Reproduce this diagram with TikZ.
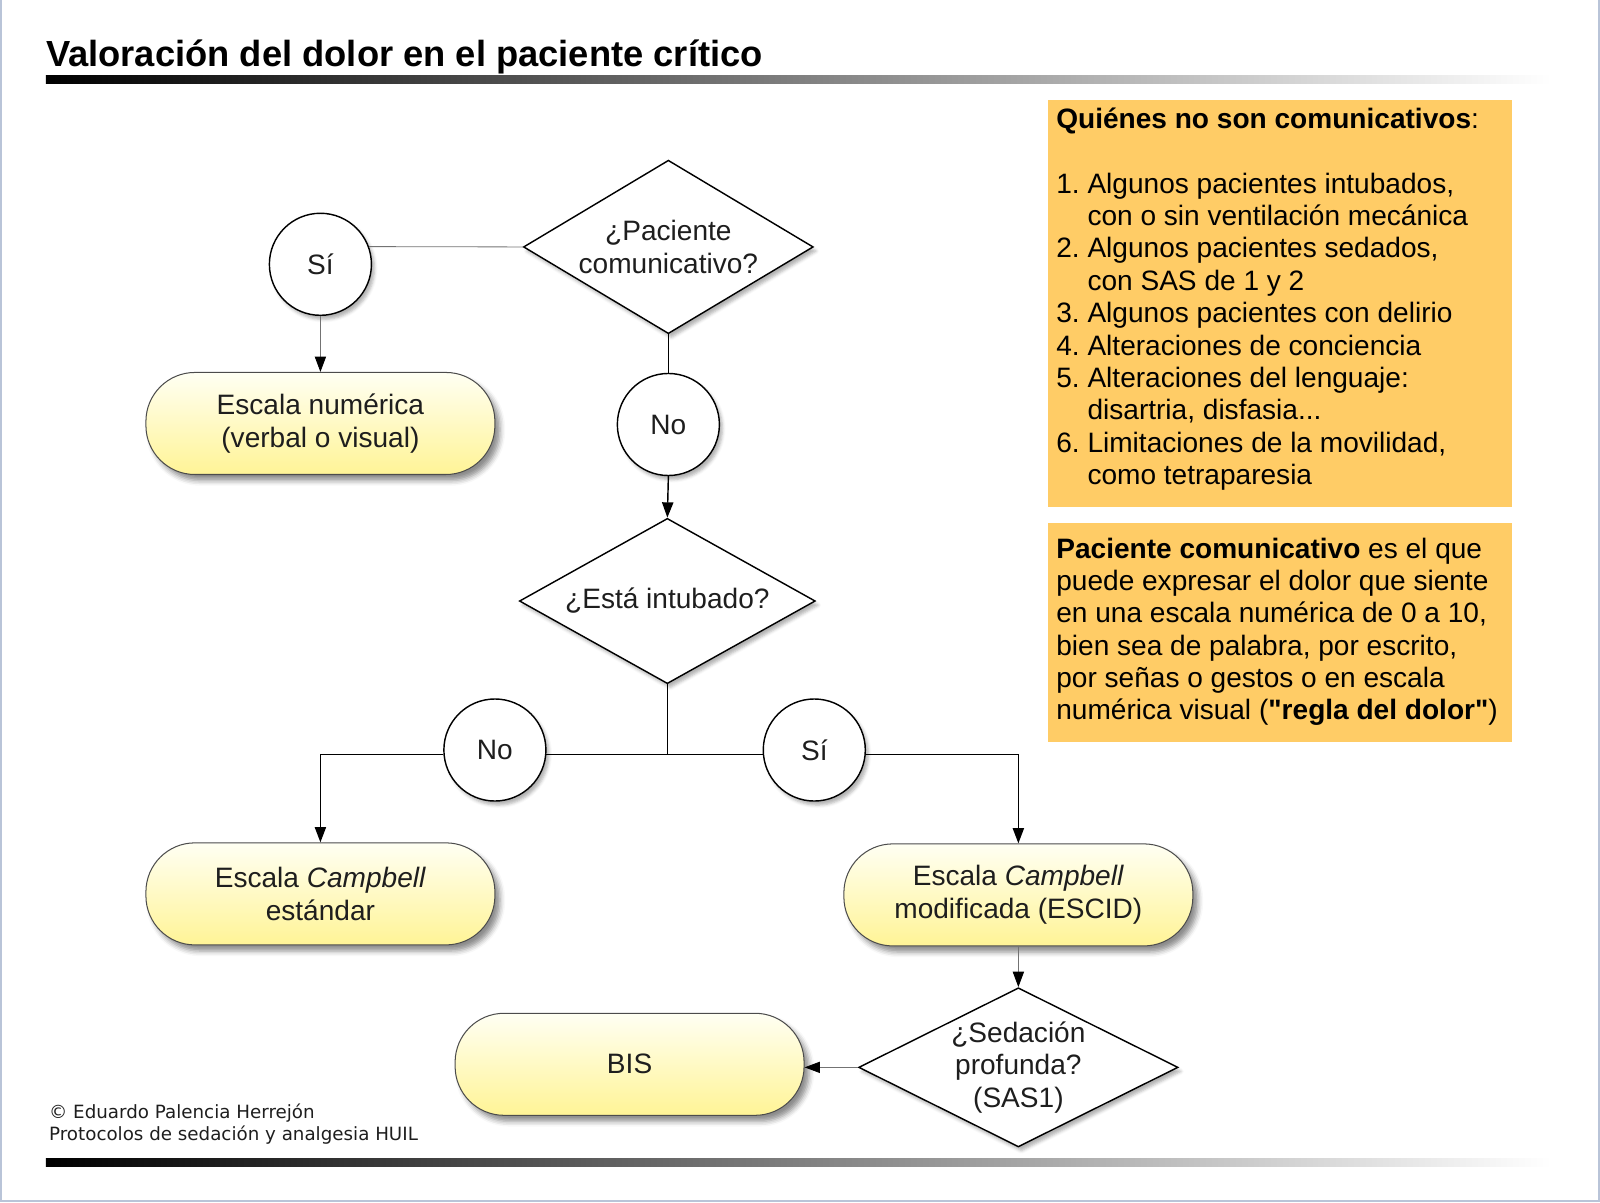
\documentclass[tikz,border=0pt]{standalone}
\usepackage{fontspec}
\setmainfont{Liberation Sans}
\newfontfamily\notefont{DejaVu Sans}
\usepackage{xcolor}
\usetikzlibrary{shapes.geometric,arrows.meta,shadows.blur}

\definecolor{boxorange}{RGB}{255,204,102}
\definecolor{pilltop}{RGB}{255,255,243}
\definecolor{pillbot}{RGB}{255,244,150}
\definecolor{inkgray}{RGB}{30,30,30}
\definecolor{framecol}{RGB}{185,196,216}

\tikzset{
    txt/.style={font=\fontsize{27.5}{31.7}\selectfont, text=inkgray},
    pill/.style={txt, rectangle, rounded corners=48pt, draw=black!70, line width=1pt,
        top color=pilltop, bottom color=pillbot, minimum width=342pt, minimum height=100pt,
        align=center, blur shadow={shadow xshift=5pt, shadow yshift=-6pt, shadow blur radius=5pt, shadow opacity=45}},
    answer/.style={txt, circle, draw=black, line width=1.4pt, fill=white, minimum size=100pt, inner sep=0pt,
        blur shadow={shadow xshift=3pt, shadow yshift=-4pt, shadow blur radius=3pt, shadow opacity=30}},
    query/.style={txt, diamond, draw=black, line width=1.4pt, fill=white, inner sep=0pt, align=center,
        blur shadow={shadow xshift=3pt, shadow yshift=-4pt, shadow blur radius=3pt, shadow opacity=30}},
    link/.style={line width=1.4pt},
    thinlink/.style={line width=0.8pt, draw=black!55},
    tip/.style={-{Triangle[length=15pt,width=11pt,color=black]}}
}

\begin{document}
\begin{tikzpicture}[x=1pt,y=-1pt]
                    \useasboundingbox (0,0) rectangle (1568,1178);
                    \draw[framecol, line width=2pt] (1,0) -- (1,1177) -- (1567,1177) -- (1567,0);

                    \node[anchor=base west, inner sep=0pt, font=\fontsize{35.6}{40}\selectfont\bfseries] (title) at (45,65) {Valoración del dolor en el paciente crítico};
                    \shade[left color=black, right color=white] (45,74) rectangle (1520,82);
                    \shade[left color=black, right color=white] (45,1135) rectangle (1520,1143);

                    \node[query, shape aspect=1.67, minimum width=284pt, minimum height=170pt] (d1) at (655,242) {¿Paciente\\comunicativo?};
                    \node[answer] (si1) at (314,259) {Sí};
                    \node[pill] (num) at (314,415) {Escala numérica\\(verbal o visual)};
                    \node[answer] (no1) at (655,416) {No};
                    \node[query, shape aspect=1.79, minimum width=290pt, minimum height=162pt] (d2) at (654,589) {¿Está intubado?};
                    \node[answer] (no2) at (485,735) {No};
                    \node[answer] (si2) at (798,735) {Sí};
                    \node[pill] (camp) at (314,876) {Escala \textit{Campbell}\\estándar};
                    \node[pill] (escid) at (998,877) {Escala \textit{Campbell}\\modificada (ESCID)};
                    \node[query, shape aspect=2, minimum width=313pt, minimum height=156pt] (d3) at (998,1046) {¿Sedación\\profunda?\\(SAS1)};
                    \node[pill] (bis) at (617,1043) {BIS};

                    \draw[thinlink] (d1.west) -- (si1.20);
                    \draw[thinlink, tip] (si1.south) -- (num.north);
                    \draw[link] (d1.south) -- (no1.north);
                    \draw[link, tip] (no1.south) -- (d2.north);
                    \draw[link] (d2.south) -- (d2.south |- no2.-5);
                    \draw[link] (no2.-5) -- (si2.185);
                    \draw[link, tip] (no2.185) -| (camp.north);
                    \draw[link, tip] (si2.-5) -| (escid.north);
                    \draw[thinlink, tip] (escid.south) -- (d3.north);
                    \draw[thinlink, tip] (d3.west) -- (d3.west -| bis.east);

                    \fill[boxorange] (1027,98) rectangle (1482,497);
                    \fill[boxorange] (1027,513) rectangle (1482,727);
                    \node[txt, text=black, anchor=base west, inner sep=0pt] (who) at (1035,126) {\begin{tabular}[t]{@{}l@{\ }l@{}}
                        \multicolumn{2}{@{}l@{}}{\textbf{Quiénes no son comunicativos}:}\\
                        \\
                        1. & Algunos pacientes intubados,\\
                           & con o sin ventilación mecánica\\
                        2. & Algunos pacientes sedados,\\
                           & con SAS de 1 y 2\\
                        3. & Algunos pacientes con delirio\\
                        4. & Alteraciones de conciencia\\
                        5. & Alteraciones del lenguaje:\\
                           & disartria, disfasia...\\
                        6. & Limitaciones de la movilidad,\\
                           & como tetraparesia
                    \end{tabular}};
                    \node[txt, text=black, anchor=base west, inner sep=0pt] (def) at (1035,547) {\begin{tabular}[t]{@{}l@{}}
                        \textbf{Paciente comunicativo} es el que\\
                        puede expresar el dolor que siente\\
                        en una escala numérica de 0 a 10,\\
                        bien sea de palabra, por escrito,\\
                        por señas o gestos o en escala\\
                        numérica visual (\textbf{\textquotedbl regla del dolor\textquotedbl})
                    \end{tabular}};

                    \node[anchor=base west, inner sep=0pt, align=left, font=\notefont\fontsize{17.9}{22}\selectfont, text=inkgray] (note) at (48,1118) {© Eduardo Palencia Herrejón\\Protocolos de sedación y analgesia HUIL};
                \end{tikzpicture}
\end{document}
